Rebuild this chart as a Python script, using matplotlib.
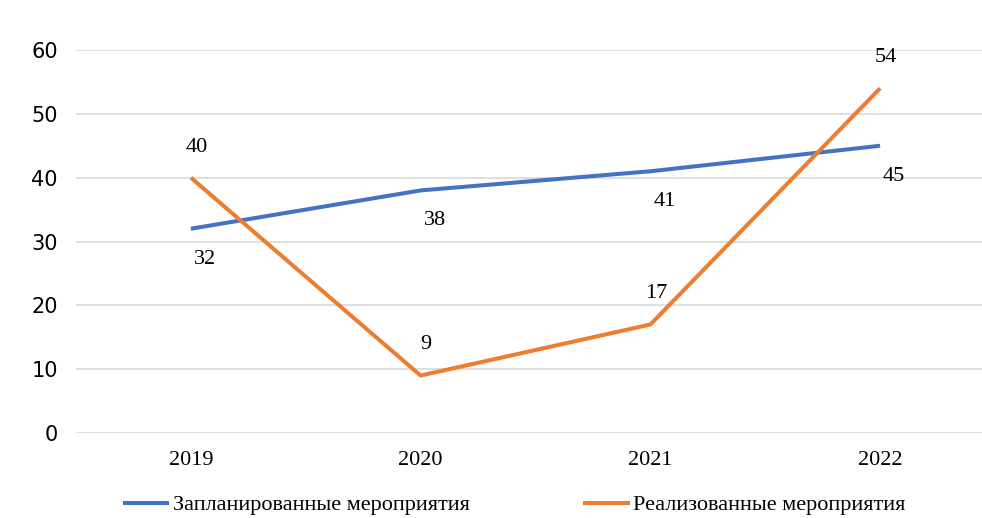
import matplotlib.pyplot as plt

# Data
years = ['2019', '2020', '2021', '2022']
planned = [32, 38, 41, 45]
realized = [40, 9, 17, 54]
planned_label = 'Запланированные мероприятия'
realized_label = 'Реализованные мероприятия'

blue = '#4472C4'
orange = '#ED7D31'

fig = plt.figure(figsize=(9.82, 5.18), dpi=100)
ax = fig.add_axes([76 / 982, 1 - 433 / 518, (995 - 76) / 982, (433 - 50) / 518])

x = list(range(len(years)))
ax.plot(x, planned, color=blue, lw=2.9, label=planned_label, solid_capstyle='butt')
ax.plot(x, realized, color=orange, lw=2.9, label=realized_label, solid_capstyle='butt')

for xi, v in zip(x, planned):
    ax.annotate(str(v), (xi, v), xytext=(10, -22), textcoords='offset points',
                ha='center', va='center', fontsize=16, family='Liberation Serif')
for xi, v in zip(x, realized):
    ax.annotate(str(v), (xi, v), xytext=(4, 22), textcoords='offset points',
                ha='center', va='center', fontsize=16, family='Liberation Serif')

ax.set_xlim(-0.5, 3.5)
ax.set_ylim(0, 60)
ax.set_yticks(range(0, 61, 10))
ax.set_xticks(x)
ax.set_xticklabels(years, family='Liberation Serif', fontsize=16)
ax.tick_params(axis='y', labelsize=15, length=0, pad=13)
ax.tick_params(axis='x', length=0, pad=13)
ax.grid(axis='y', color='#d9d9d9', lw=1.2)
ax.set_axisbelow(True)
for s in ax.spines.values():
    s.set_visible(False)

fig.legend(loc='center', bbox_to_anchor=(514 / 982, 1 - 505 / 518), ncol=2,
           frameon=False, prop={'family': 'Liberation Serif', 'size': 16},
           handlelength=2.1, handletextpad=0.15, columnspacing=5.1)

fig.savefig('out.png', dpi=100)
